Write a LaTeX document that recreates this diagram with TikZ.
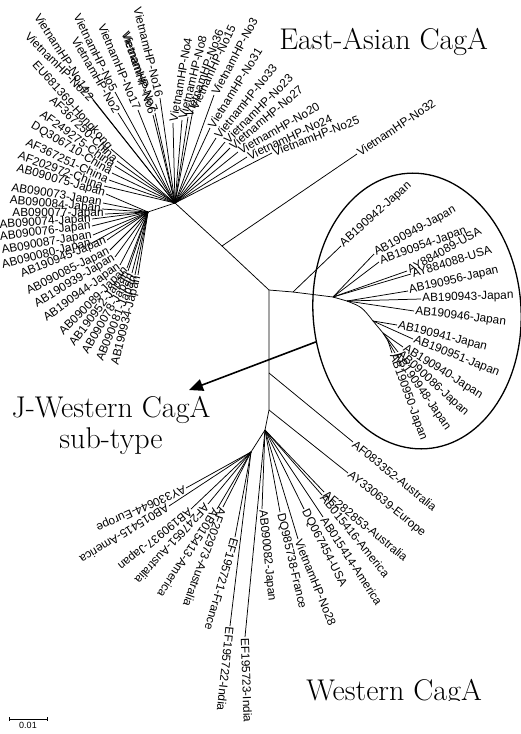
\documentclass[tikz,border=0pt]{standalone}
\usepackage{fontspec}
\setsansfont{Liberation Sans}
\usepackage{tikz}
\usetikzlibrary{shapes.geometric,arrows.meta}
\tikzset{
	leaf/.style={font=\sffamily\fontsize{11.8}{12}\selectfont,inner sep=1pt},
	lout/.style={leaf,anchor=west,rotate=#1},
	lin/.style={leaf,anchor=east,rotate=#1},
	title/.style={font=\fontsize{30}{34}\selectfont,inner sep=0pt,anchor=base},
	clade/.style={ellipse,draw,line width=1.3pt,minimum width=208pt,minimum height=276pt,inner sep=0pt,rotate=4},
	pointer/.style={-{Triangle[length=14pt,width=12pt]},line width=1.6pt}
}

\begin{document}
\begin{tikzpicture}[x=1pt,y=-1pt,line width=0.75pt]
	\useasboundingbox (0,0) rectangle (521,734);

	% inner nodes of the tree
	\coordinate (E0) at (175,203);
	\coordinate (EJ) at (148,212);
	\coordinate (N32) at (222,246);
	\coordinate (C1) at (269,290);
	\coordinate (N42) at (293,292);
	\coordinate (JW) at (333,297);
	\coordinate (JW1) at (347,301);
	\coordinate (JW2) at (373,321);
	\coordinate (JW3) at (383,333);
	\coordinate (JW4) at (388,341);
	\coordinate (C2) at (269,373);
	\coordinate (C3) at (269,410);
	\coordinate (W0) at (265,430);
	\coordinate (WL) at (251,452);

	\draw (E0) -- (N32) -- (C1) -- (N42) -- (JW) -- (JW1) .. controls (362,307) .. (JW2) -- (JW3) -- (JW4);
	\draw (C1) -- (C2) -- (C3) -- (W0) -- (WL);
	\draw (E0) -- (EJ);

	% East-Asian, Vietnam
	\node [lin=-57] (v14) at (88,93) {VietnamHP-No14};
	\node [lin=-45] (v22) at (93,100) {VietnamHP-No22};
	\node [lin=-64] (v5) at (115,92) {VietnamHP-No5};
	\node [lin=-60] (v2) at (118,113) {VietnamHP-No2};
	\node [lin=-67] (v17) at (138,110) {VietnamHP-No17};
	\node [lin=-72] (v6) at (153,115) {VietnamHP-No6};
	\node [lin=-70] (v7) at (155,113) {VietnamHP-No7};
	\node [lin=-76] (v16) at (160,98) {VietnamHP-No16};
	\node [lout=80] (v4) at (173,123) {VietnamHP-No4};
	\node [lout=76] (v8) at (182,120) {VietnamHP-No8};
	\node [lout=70] (v36) at (188,117) {VietnamHP-No36};
	\node [lout=65] (v15) at (193,110) {VietnamHP-No15};
	\node [lout=62] (v3) at (214,95) {VietnamHP-No3};
	\node [lout=58] (v31) at (210,128) {VietnamHP-No31};
	\node [lout=51] (v33) at (216,138) {VietnamHP-No33};
	\node [lout=45] (v23) at (225,142) {VietnamHP-No23};
	\node [lout=40] (v27) at (230,148) {VietnamHP-No27};
	\node [lout=30] (v20) at (238,152) {VietnamHP-No20};
	\node [lout=25] (v24) at (247,157) {VietnamHP-No24};
	\node [lout=21] (v25) at (272,153) {VietnamHP-No25};
	\node [lout=34] (v32) at (357,154) {VietnamHP-No32};

	\draw (E0) -- (v14.east);
	\draw (E0) -- (v22.east);
	\draw (E0) -- (v5.east);
	\draw (E0) -- (v2.east);
	\draw (E0) -- (v17.east);
	\draw (E0) -- (v6.east);
	\draw (E0) -- (v7.east);
	\draw (E0) -- (v16.east);
	\draw (E0) -- (v4.west);
	\draw (E0) -- (v8.west);
	\draw (E0) -- (v36.west);
	\draw (E0) -- (v15.west);
	\draw (E0) -- (v3.west);
	\draw (E0) -- (v31.west);
	\draw (E0) -- (v33.west);
	\draw (E0) -- (v23.west);
	\draw (E0) -- (v27.west);
	\draw (E0) -- (v20.west);
	\draw (E0) -- (v24.west);
	\draw (E0) -- (v25.west);
	\draw (N32) -- (v32.west);

	% East-Asian, China and Hongkong
	\node [lin=-48] (hk) at (111,149) {EU681369-Hongkong};
	\node [lin=-44] (c250) at (117,161) {AF367250-China};
	\node [lin=-36] (c275) at (115,166) {AF249275-China};
	\node [lin=-31] (c710) at (112,173) {DQ306710-China};
	\node [lin=-25] (c251) at (109,180) {AF367251-China};
	\node [lin=-20] (c972) at (104,186) {AF202972-China};

	\draw (E0) -- (hk.east);
	\draw (E0) -- (c250.east);
	\draw (E0) -- (c275.east);
	\draw (E0) -- (c710.east);
	\draw (E0) -- (c251.east);
	\draw (E0) -- (c972.east);

	% East-Asian, Japan
	\node [lin=-16] (a075) at (106,194) {AB090075-Japan};
	\node [lin=-9] (a073) at (103,203) {AB090073-Japan};
	\node [lin=-5] (a084) at (102,209) {AB090084-Japan};
	\node [lin=0] (a077) at (105,214) {AB090077-Japan};
	\node [lin=4] (a074) at (92,219) {AB090074-Japan};
	\node [lin=7] (a076) at (92,226) {AB090076-Japan};
	\node [lin=10] (a087) at (93,235) {AB090087-Japan};
	\node [lin=14] (a080) at (92,243) {AB090080-Japan};
	\node [lin=22] (b945) at (107,240) {AB190945-Japan};
	\node [lin=27] (a085) at (110,250) {AB090085-Japan};
	\node [lin=31] (b939) at (115,257) {AB190939-Japan};
	\node [lin=36] (b944) at (120,265) {AB190944-Japan};
	\node [lin=45] (a089) at (127,268) {AB090089-Japan};
	\node [lin=53] (b952) at (128,271) {AB190952-Japan};
	\node [lin=60] (a078) at (132,273) {AB090078-Japan};
	\node [lin=68] (a081) at (135,275) {AB090081-Japan};
	\node [lin=76] (b934) at (138,275) {AB190934-Japan};

	\draw (EJ) -- (a075.east);
	\draw (EJ) -- (a073.east);
	\draw (EJ) -- (a084.east);
	\draw (EJ) -- (a077.east);
	\draw (EJ) -- (a074.east);
	\draw (EJ) -- (a076.east);
	\draw (EJ) -- (a087.east);
	\draw (EJ) -- (a080.east);
	\draw (EJ) -- (b945.east);
	\draw (EJ) -- (a085.east);
	\draw (EJ) -- (b939.east);
	\draw (EJ) -- (b944.east);
	\draw (EJ) -- (a089.east);
	\draw (EJ) -- (b952.east);
	\draw (EJ) -- (a078.east);
	\draw (EJ) -- (a081.east);
	\draw (EJ) -- (b934.east);

	% J-Western clade
	\node [lout=42] (j942) at (341,246) {AB190942-Japan};
	\node [lout=29] (j949) at (374,254) {AB190949-Japan};
	\node [lout=20] (j954) at (379,262) {AB190954-Japan};
	\node [lout=29] (u089) at (407,271) {AY884089-USA};
	\node [lout=17] (u088) at (411,274) {AY884088-USA};
	\node [lout=13] (j956) at (408,291) {AB190956-Japan};
	\node [lout=2] (j943) at (421,299) {AB190943-Japan};
	\node [lout=-7] (j946) at (414,311) {AB190946-Japan};
	\node [lout=-14] (j941) at (397,325) {AB190941-Japan};
	\node [lout=-22] (j951) at (413,339) {AB190951-Japan};
	\node [lout=-32] (j940) at (403,347) {AB190940-Japan};
	\node [lout=-42] (j086) at (398,352) {AB090086-Japan};
	\node [lout=-55] (j948) at (395,353) {AB190948-Japan};
	\node [lout=-70] (j950) at (392,353) {AB190950-Japan};

	\draw (N42) -- (j942.west);
	\draw (JW) -- (j949.west);
	\draw (JW) -- (j954.west);
	\draw (JW) -- (u089.west);
	\draw (JW) -- (u088.west);
	\draw (JW1) -- (j956.west);
	\draw (JW1) -- (j943.west);
	\draw (JW1) -- (j946.west);
	\draw (JW2) -- (j941.west);
	\draw (JW2) -- (j951.west);
	\draw (JW3) -- (j940.west);
	\draw (JW3) -- (j086.west);
	\draw (JW4) -- (j948.west);
	\draw (JW4) -- (j950.west);

	\node [clade] (jwclade) at (417,311) {};
	\coordinate (jwtip) at (189,390);
	\draw [pointer] (jwclade.193) -- (jwtip);

	% Western
	\node [lout=-39] (w352) at (353,442) {AF083352-Australia};
	\node [lout=-39] (w639) at (348,473) {AY330639-Europe};
	\node [lout=-39] (w853) at (324,492) {AF282853-Australia};
	\node [lout=-51] (w416) at (322,495) {AB015416-America};
	\node [lout=-57] (w414) at (323,517) {AB015414-America};
	\node [lout=-63] (w454) at (304,509) {DQ067454-USA};
	\node [lout=-68] (w28) at (298,539) {VietnamHP-No28};
	\node [lout=-77] (w738) at (280,512) {DQ985738-France};
	\node [lout=-84] (w082) at (262,509) {AB090082-Japan};
	\node [lout=-88] (w723) at (245,637) {EF195723-India};
	\node [lout=-96] (w722) at (230,626) {EF195722-India};
	\node [lout=-106] (w721) at (235,537) {EF195721-France};
	\node [lout=204] (w644) at (186,488) {AY330644-Europe};
	\node [lout=212] (w415) at (169,506) {AB015415-America};
	\node [lout=219] (w937) at (191,509) {AB190937-Japan};
	\node [lout=228] (w651) at (208,504) {AF247651-Australia};
	\node [lout=237] (w413) at (217,509) {AB015413-America};
	\node [lout=250] (w973) at (223,507) {AF202973-Australia};

	\draw (C2) -- (w352.west);
	\draw (C3) -- (w639.west);
	\draw (W0) -- (w853.west);
	\draw (W0) -- (w416.west);
	\draw (W0) -- (w414.west);
	\draw (W0) -- (w454.west);
	\draw (W0) -- (w28.west);
	\draw (W0) -- (w738.west);
	\draw (W0) -- (w082.west);
	\draw (W0) -- (w723.west);
	\draw (WL) -- (w722.west);
	\draw (WL) -- (w721.west);
	\draw (WL) -- (w644.west);
	\draw (WL) -- (w415.west);
	\draw (WL) -- (w937.west);
	\draw (WL) -- (w651.west);
	\draw (WL) -- (w413.west);
	\draw (WL) -- (w973.west);

	% group names
	\node [title,anchor=base west] (eastasian) at (279,49) {East-Asian CagA};
	\node [title] (jwname) at (111,417) {J-Western CagA};
	\node [title] (jwsub) at (111,448) {sub-type};
	\begin{scope}
		\clip (0,0) rectangle (521,700);
		\node [title,anchor=base west] (western) at (306,700) {Western CagA};
	\end{scope}

	% scale bar
	\coordinate (sb1) at (9,719);
	\coordinate (sb2) at (47,719);
	\draw (sb1) -- (sb2);
	\draw ([yshift=2pt]sb1) -- ([yshift=-2pt]sb1);
	\draw ([yshift=2pt]sb2) -- ([yshift=-2pt]sb2);
	\node [font=\sffamily\fontsize{9}{9}\selectfont,anchor=north,inner sep=0pt] (sblabel) at (28,722) {0.01};
\end{tikzpicture}
\end{document}
